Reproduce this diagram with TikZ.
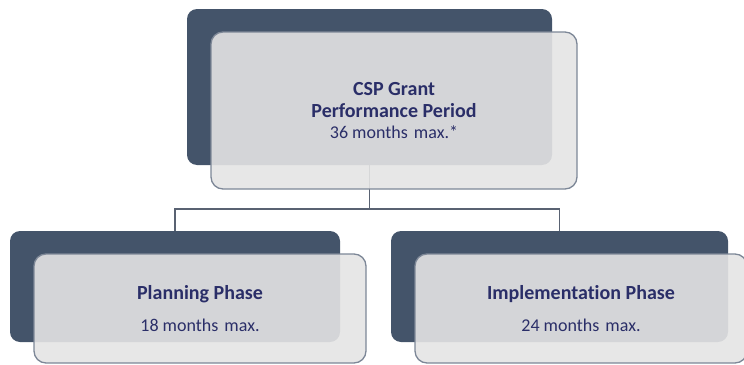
\documentclass[tikz,border=0pt]{standalone}
\usepackage{fontspec}
\setmainfont{Carlito}[RawFeature={-liga}]
\definecolor{darkbox}{HTML}{44546A}
\definecolor{lightfill}{HTML}{E4E4E4}
\definecolor{lightline}{HTML}{7D8797}
\definecolor{txt}{HTML}{2A2E68}
\definecolor{conn}{HTML}{596272}
\begin{document}
\begin{tikzpicture}[x=1pt,y=-1pt,
  backbox/.style={fill=darkbox,draw=none,rounded corners=10pt,inner sep=0pt},
  frontbox/.style={fill=lightfill,fill opacity=0.9,draw=lightline,line width=1.3pt,rounded corners=12pt,inner sep=0pt,text opacity=1,text=txt,align=center,font=\fontsize{20}{22}\selectfont},
  conline/.style={draw=conn,line width=1.2pt}]
\useasboundingbox (0,0) rectangle (744,364);
\clip (0,0) rectangle (744,364);
% back boxes
\node[backbox,minimum width=365pt,minimum height=156pt] (topdark) at (369.5,87) {};
\node[backbox,minimum width=330pt,minimum height=111pt] (leftdark) at (175,286.5) {};
\node[backbox,minimum width=337pt,minimum height=111pt] (rightdark) at (559.5,286.5) {};
% connectors
\coordinate (mid) at (369.5,209);
\draw[conline] (topdark.south) -- (mid) -| (leftdark.north);
\draw[conline] (mid) -| (rightdark.north);
% front boxes
\node[frontbox,minimum width=366pt,minimum height=157pt] (toplight) at (394,110.5)
  {\bfseries CSP Grant\\ \bfseries Performance Period\\[-1pt] \fontsize{18}{21}\selectfont 36 months\hspace{2pt} max.*};
\node[frontbox,minimum width=332pt,minimum height=109pt] (leftlight) at (200,308.5)
  {\bfseries Planning Phase\\[10pt] \fontsize{18}{21}\selectfont 18 months\hspace{2pt} max.};
\node[frontbox,minimum width=332pt,minimum height=109pt] (rightlight) at (581,308.5)
  {\bfseries Implementation Phase\\[10pt] \fontsize{18}{21}\selectfont 24 months\hspace{2pt} max.};
\end{tikzpicture}
\end{document}
